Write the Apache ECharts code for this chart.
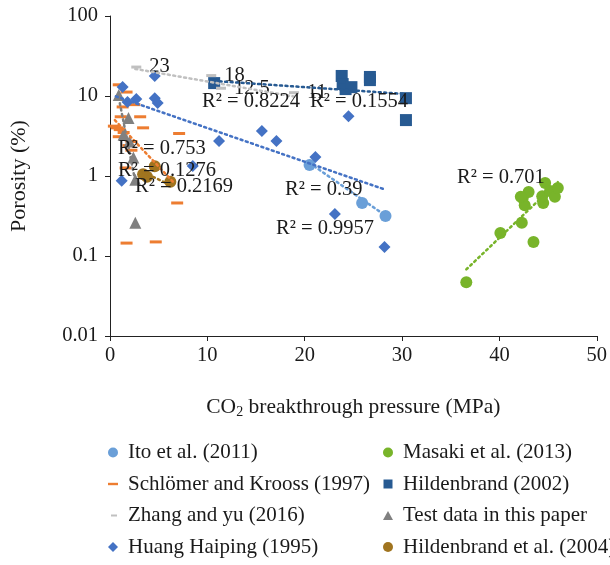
<!DOCTYPE html>
<html><head><meta charset="utf-8">
<script src="https://cdn.jsdelivr.net/npm/echarts@6/dist/echarts.min.js"></script>
<style>html,body{margin:0;padding:0;background:#fff}#c{width:610px;height:565px}</style>
</head><body><div id="c"></div>
<script>
// ---- data (x = CO2 breakthrough pressure MPa, y = porosity %) ----
const ito = [[20.5,1.37],[25.9,0.46],[28.3,0.316]];
const masaki = [[36.6,0.047],[40.1,0.194],[42.3,0.26],[43.5,0.15],[42.4,0.53],[42.6,0.43],[43.0,0.63],[42.2,0.55],[44.5,0.46],[44.4,0.56],[44.7,0.82],[45.2,0.65],[45.7,0.55],[46.0,0.71]];
const schlomer = [[0.9,13.8],[1.7,11.2],[1.3,7.3],[1.1,5.5],[3.1,5.5],[3.4,4.0],[0.7,4.0],[1.0,3.8],[1.4,3.5],[0.9,3.1],[2.2,2.7],[1.9,2.4],[2.2,2.1],[1.6,1.26],[7.1,3.4],[6.9,0.46],[1.7,0.145],[4.7,0.15],[0.4,4.2],[2.5,7.8]];
const hild2002 = [[10.7,14.5],[23.8,17.8],[23.9,14.1],[24.2,12.2],[24.8,12.9],[26.7,17.3],[26.7,15.8],[30.4,9.4],[30.4,5.0]];
const zhang = [[2.7,23],[10.4,18],[11.4,12.5],[18.9,11]];
const testData = [[0.9,10.3],[1.9,5.3],[1.4,3.3],[2.0,2.7],[2.4,1.7],[2.6,0.9],[2.6,0.26]];
const huang = [[1.3,13],[1.8,8.4],[2.7,9.2],[4.6,17.8],[4.6,9.4],[4.9,8.2],[1.2,0.87],[11.2,2.74],[8.5,1.33],[15.6,3.65],[17.1,2.74],[21.1,1.73],[24.5,5.6],[23.1,0.335],[28.2,0.13]];
const hild2004 = [[3.4,1.05],[3.8,0.98],[4.6,1.32],[6.2,0.85]];
// trendline end points
const trendIto = [[20.5,1.45],[28.3,0.32]];
const trendMasaki = [[36.6,0.068],[46.0,0.84]];
const trendSchlomer = [[0.5,5.0],[6.5,0.84]];
const trendHild2002 = [[10.7,15.4],[30.4,10.6]];
const trendZhang = [[2.6,21.8],[19.2,9.7]];
const trendTest = [[0.9,9.5],[2.6,0.85]];
const trendHuang = [[0.6,9.9],[28.2,0.68]];
const trendHild2004 = [[3.4,1.12],[6.2,0.77]];
const r2Labels = ['R² = 0.753','R² = 0.1276','R² = 0.2169','R² = 0.8224','R² = 0.1554','R² = 0.39','R² = 0.9957','R² = 0.701'];
const xTicks = [0,10,20,30,40,50];
const yTicks = [0.01,0.1,1,10,100];

const FF = 'Liberation Serif';
const TXT = '#1a1a1a';
const C = {ito:'#6a9fd8', masaki:'#78b42a', schl:'#ed7d31', hild:'#275a92', zhang:'#c0c0c0', test:'#808080', huang:'#4472c4', h04:'#a0741f'};
const dash = 'path://M0,0 M0,10 M0,3.8 L10,3.8 L10,6.2 L0,6.2 Z';
const dashS = 'path://M0,0 M0,10 M2,4 L8,4 L8,6 L2,6 Z';
const diamondIcon = 'path://M0,0 M10,10 M5,0 L10,5 L5,10 L0,5 Z';
const squareIcon = 'path://M0,0 M10,10 M0.5,0.5 L9.5,0.5 L9.5,9.5 L0.5,9.5 Z';
const triIcon = 'path://M0,0 M10,10 M5,0.5 L10,9.5 L0,9.5 Z';

function sc(name, data, symbol, size, color, extra) {
  return Object.assign({type:'scatter', name, data, symbol, symbolSize:size, itemStyle:{color, opacity:1}, z:3, emphasis:{disabled:true}}, extra||{});
}
function tr(data, color) {
  return {type:'line', data, symbol:'none', silent:true, z:4, lineStyle:{color, width:2.5, type:[2,3.5], cap:'round'}, emphasis:{disabled:true}};
}
const series = [
  sc('Ito et al. (2011)', ito, 'circle', 12, C.ito),
  sc('Masaki et al. (2013)', masaki, 'circle', 12, C.masaki),
  sc('Schlömer and Krooss (1997)', schlomer, 'rect', [12,3], C.schl),
  sc('Hildenbrand (2002)', hild2002, 'rect', 12, C.hild),
  sc('Zhang and yu (2016)', zhang, 'rect', [10,3], C.zhang, {label:{show:true, position:'right', distance:8, formatter:p=>String(p.value[1]), fontFamily:FF, fontSize:20.5, color:TXT}}),
  sc('Test data in this paper', testData, 'triangle', 12, C.test),
  sc('Huang Haiping (1995)', huang, 'diamond', 12, C.huang),
  sc('Hildenbrand et al. (2004)', hild2004, 'circle', 12, C.h04),
  tr(trendIto, C.ito), tr(trendMasaki, C.masaki), tr(trendSchlomer, C.schl), tr(trendHild2002, C.hild),
  tr(trendZhang, C.zhang), tr(trendTest, C.test), tr(trendHuang, C.huang), tr(trendHild2004, C.h04)
];
const r2Pos = [[118,149],[118,171],[135,187],[202,102],[310,102],[285,190],[276,229],[457,178]];
const graphic = r2Labels.map((t,i)=>({type:'text', left:r2Pos[i][0], top:r2Pos[i][1]-11, z:10, style:{text:t, font:`20.5px "${FF}"`, fill:TXT}}));

const legendBase = {orient:'vertical', top:442, height:140, padding:0, itemWidth:20, itemHeight:10, itemGap:10.5, selectedMode:false, textStyle:{fontFamily:FF, fontSize:21, color:TXT}};
const chart = echarts.init(document.getElementById('c'), null, {renderer:'canvas'});
chart.setOption({
  animation:false,
  backgroundColor:'#fff',
  grid:{left:108, right:11, top:16, bottom:229, containLabel:false},
  xAxis:{type:'value', min:xTicks[0], max:xTicks[xTicks.length-1], interval:10,
    name:'{a|CO}{s|2}{a| breakthrough pressure (MPa)}', nameLocation:'middle', nameGap:60,
    nameTextStyle:{rich:{a:{fontFamily:FF, fontSize:21.5, color:TXT}, s:{fontFamily:FF, fontSize:14, color:TXT, padding:[9,0,0,0]}}},
    axisLine:{lineStyle:{color:'#222', width:1}}, axisTick:{show:true, inside:false, length:5, lineStyle:{color:'#222'}},
    axisLabel:{fontFamily:FF, fontSize:20.5, color:TXT, margin:9}, splitLine:{show:false}},
  yAxis:{type:'log', logBase:10, min:yTicks[0], max:yTicks[yTicks.length-1],
    name:'Porosity (%)', nameLocation:'middle', nameGap:80, nameRotate:90,
    nameTextStyle:{fontFamily:FF, fontSize:22, color:TXT},
    axisLine:{show:true, lineStyle:{color:'#222', width:1}}, axisTick:{show:true, inside:false, length:5, lineStyle:{color:'#222'}},
    minorTick:{show:false},
    axisLabel:{fontFamily:FF, fontSize:20.5, color:TXT, margin:12, formatter:v=>String(+(+v).toPrecision(2))}, splitLine:{show:false}},
  legend:[
    Object.assign({}, legendBase, {left:108, data:[{name:'Ito et al. (2011)', icon:'circle'},{name:'Schlömer and Krooss (1997)', icon:dash},{name:'Zhang and yu (2016)', icon:dashS},{name:'Huang Haiping (1995)', icon:diamondIcon}]}),
    Object.assign({}, legendBase, {left:383, data:[{name:'Masaki et al. (2013)', icon:'circle'},{name:'Hildenbrand (2002)', icon:squareIcon},{name:'Test data in this paper', icon:triIcon},{name:'Hildenbrand et al. (2004)', icon:'circle'}]})
  ],
  graphic,
  series
});
</script></body></html>
